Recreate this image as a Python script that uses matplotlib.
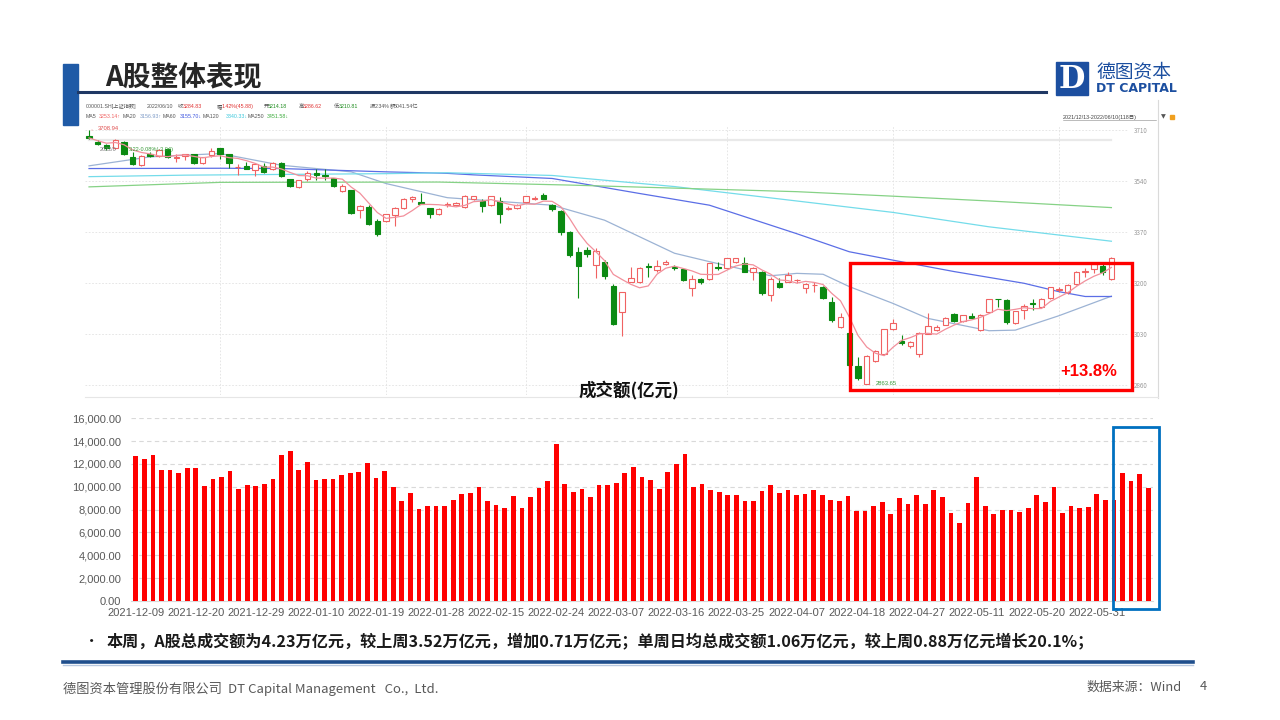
import numpy as np
import pandas as pd
import matplotlib
matplotlib.use("Agg")
import matplotlib.pyplot as plt
from matplotlib.patches import Rectangle
from matplotlib.ticker import FuncFormatter

plt.rcParams['font.family'] = ['Noto Sans CJK SC', 'DejaVu Sans']

# ---- Shanghai composite daily candles, 2021/12/13 - 2022/06/10 (118 days) ----
opens = [3690, 3672, 3660, 3649, 3671, 3621, 3593, 3632, 3624, 3647,
         3617, 3623, 3630, 3599, 3627, 3649, 3629, 3586, 3591, 3577,
         3590, 3580, 3602, 3546, 3521, 3546, 3568, 3561, 3549, 3507,
         3510, 3443, 3455, 3407, 3407, 3428, 3452, 3480, 3471, 3449,
         3429, 3462, 3462, 3455, 3480, 3474, 3460, 3474, 3447, 3449,
         3471, 3480, 3494, 3460, 3440, 3372, 3303, 3311, 3261, 3270,
         3191, 3106, 3205, 3205, 3256, 3244, 3263, 3253, 3247, 3183,
         3214, 3214, 3255, 3250, 3270, 3266, 3239, 3239, 3161, 3200,
         3205, 3211, 3184, 3194, 3188, 3137, 3055, 3033, 2926, 2864,
         2941, 2964, 3047, 3008, 2992, 2964, 3030, 3043, 3062, 3097,
         3076, 3092, 3045, 3105, 3148, 3145, 3067, 3111, 3133, 3122,
         3150, 3178, 3170, 3196, 3236, 3248, 3257, 3214.18]
highs = [3708.94, 3676, 3664, 3680, 3675, 3638, 3626, 3636, 3646, 3650,
         3629, 3632, 3632, 3621, 3649, 3651, 3632, 3596, 3605, 3601,
         3602, 3603, 3605, 3548, 3545, 3574, 3580, 3579, 3552, 3530,
         3512, 3462, 3460, 3414, 3432, 3455, 3484, 3491, 3501, 3452,
         3450, 3470, 3470, 3493, 3492, 3480, 3492, 3488, 3456, 3465,
         3491, 3490, 3499, 3463, 3444, 3374, 3322, 3320, 3316, 3278,
         3197, 3172, 3255, 3253, 3266, 3277, 3277, 3260, 3249, 3226,
         3218, 3268, 3270, 3283, 3285, 3288, 3255, 3241, 3222, 3219,
         3238, 3215, 3200, 3205, 3190, 3155, 3100, 3035, 2953, 2960,
         2978, 3048, 3081, 3028, 3007, 3039, 3100, 3062, 3087, 3100,
         3095, 3100, 3098, 3147, 3149, 3148, 3109, 3130, 3147, 3152,
         3188, 3189, 3196, 3240, 3250, 3265, 3263, 3286.62]
lows = [3680, 3660, 3645, 3646, 3628, 3594, 3590, 3621, 3622, 3616,
        3605, 3610, 3598, 3597, 3622, 3613, 3585, 3562, 3579, 3558,
        3566, 3576, 3555, 3520, 3518, 3540, 3544, 3544, 3520, 3503,
        3432, 3418, 3393, 3358, 3405, 3392, 3448, 3469, 3463, 3416,
        3426, 3455, 3458, 3450, 3477, 3438, 3456, 3400, 3443, 3446,
        3468, 3476, 3479, 3441, 3361, 3289, 3150, 3288, 3216, 3215,
        3061, 3023, 3205, 3200, 3222, 3238, 3260, 3244, 3208, 3159,
        3198, 3211, 3244, 3246, 3267, 3236, 3210, 3161, 3141, 3183,
        3205, 3200, 3167, 3172, 3148, 3072, 3050, 2925, 2878, 2863.65,
        2937, 2962, 3044, 2995, 2984, 2956, 3030, 3040, 3060, 3070,
        3070, 3082, 3041, 3103, 3120, 3066, 3066, 3080, 3112, 3118,
        3148, 3170, 3165, 3193, 3222, 3235, 3228, 3210.81]
closes = [3684, 3665, 3650, 3676, 3632, 3596, 3624, 3625, 3643, 3619,
          3619, 3630, 3601, 3619, 3641, 3632, 3599, 3588, 3582, 3596,
          3569, 3599, 3558, 3524, 3543, 3566, 3560, 3558, 3524, 3525,
          3435, 3458, 3396, 3363, 3429, 3452, 3481, 3486, 3465, 3429,
          3447, 3465, 3466, 3490, 3490, 3458, 3490, 3429, 3451, 3462,
          3489, 3485, 3481, 3447, 3372, 3293, 3256, 3296, 3309, 3223,
          3064, 3171, 3216, 3251, 3254, 3259, 3271, 3250, 3212, 3214,
          3203, 3266, 3252, 3283, 3283, 3237, 3252, 3167, 3213, 3186,
          3226, 3211, 3196, 3195, 3151, 3079, 3087, 2929, 2886, 2958,
          2975, 3047, 3068, 3002, 3004, 3035, 3058, 3054, 3084, 3073,
          3093, 3086, 3096, 3147, 3146, 3070, 3107, 3123, 3131, 3149,
          3186, 3182, 3195, 3236, 3241, 3263, 3239, 3284.83]

# moving averages (candle index, value)
ma20_idx = [0, 7, 15, 22, 30, 34, 41, 53, 59, 67, 71, 78, 81, 84, 87, 92, 96, 103, 106, 111, 117]
ma20_val = [3591, 3621, 3632, 3593, 3571, 3532, 3485, 3460, 3410, 3300, 3272, 3225, 3233, 3230,
            3189, 3133, 3083, 3042, 3044, 3092, 3157]
ma60_idx = [0, 15, 22, 34, 41, 44, 53, 63, 71, 81, 87, 92, 99, 107, 111, 114, 117]
ma60_val = [3582, 3583, 3582, 3571, 3566, 3561, 3549, 3499, 3460, 3365, 3305, 3277, 3239, 3200,
            3172, 3156, 3156]
ma120_idx = [0, 11, 34, 41, 53, 67, 81, 92, 103, 117]
ma120_val = [3555, 3560, 3565, 3568, 3559, 3522, 3474, 3436, 3388, 3340]
ma250_idx = [0, 15, 40, 55, 81, 92, 103, 117]
ma250_val = [3521, 3536, 3537, 3527, 3505, 3490, 3474, 3452]

month_idx = [15, 34, 50, 73, 92, 111]
price_ticks = [2860, 3030, 3200, 3370, 3540, 3710]

# ---- daily turnover (亿元) ----
turnover = [12670, 12410, 12760, 11450, 11450, 11180, 11620, 11620, 10040, 10660,
            10830, 11360, 9780, 10130, 10040, 10220, 10660, 12760, 13110, 11450,
            12150, 10570, 10660, 10660, 11010, 11180, 11270, 12060, 10750, 11360,
            9960, 8730, 9430, 8030, 8290, 8290, 8290, 8820, 9340, 9430,
            9960, 8730, 8380, 8120, 9170, 8120, 9080, 9870, 10480, 13720,
            10220, 9520, 9780, 9080, 10130, 10130, 10310, 11180, 11710, 10830,
            10570, 9780, 11270, 11970, 12850, 9960, 10220, 9690, 9520, 9260,
            9260, 8730, 8730, 9610, 10130, 9430, 9690, 9260, 9340, 9690,
            9260, 8820, 8730, 9170, 7850, 7850, 8290, 8640, 7590, 8990,
            8470, 9260, 8470, 9690, 9080, 7680, 6800, 8560, 10830, 8290,
            7590, 7940, 7940, 7770, 8120, 9260, 8640, 9960, 7680, 8290,
            8150, 8200, 9380, 8850, 8820, 11180, 10480, 11100, 9870]
bar_ticks = ['2021-12-09', '2021-12-20', '2021-12-29', '2022-01-10', '2022-01-19',
             '2022-01-28', '2022-02-15', '2022-02-24', '2022-03-07', '2022-03-16',
             '2022-03-25', '2022-04-07', '2022-04-18', '2022-04-27', '2022-05-11',
             '2022-05-20', '2022-05-31']

UP = '#F06262'
DOWN = '#0B8A12'
W, H = 1280, 720
TINY = ['Liberation Sans', 'Noto Sans CJK SC', 'DejaVu Sans']


def box(x0, y0, x1, y1):
    # pixel box with top-left origin -> figure fraction rect
    return [x0 / W, 1 - y1 / H, (x1 - x0) / W, (y1 - y0) / H]


fig = plt.figure(figsize=(12.8, 7.2), dpi=100)

# background layer in pixel coordinates
bg = fig.add_axes([0, 0, 1, 1], zorder=0)
bg.set_xlim(0, W)
bg.set_ylim(H, 0)
bg.axis('off')

bg.add_patch(Rectangle((63, 64), 15, 61, color='#1F5AA6'))
bg.plot([78, 1046], [92, 92], color='#1F3864', lw=2.2)
bg.text(105, 78, 'A股整体表现', fontsize=20, fontweight='bold', color='#262626', va='center')

# logo
bg.add_patch(Rectangle((1056, 62), 32, 33, color='#1C4FA0'))
bg.text(1072, 79, 'D', fontsize=22, fontweight='bold', color='white', ha='center', va='center',
        family='DejaVu Serif')
bg.text(1096, 72, '德图资本', fontsize=13.5, color='#1C4FA0', va='center')
bg.text(1096, 89, 'DT CAPITAL', fontsize=9, fontweight='bold', color='#1C4FA0', va='center',
        family='DejaVu Sans')

# screenshot frame lines
bg.plot([1158, 1158], [100, 398], color='#DADADA', lw=0.8)
bg.plot([85, 1158], [397, 397], color='#E6E6E6', lw=0.8)

# header strip of the quote screenshot
hdr1 = [(86, '000001.SH[上证指数]', '#555555'), (147, '2022/06/10', '#555555'),
        (178, '收', '#555555'), (183, '3284.83', '#E03030'),
        (217, '幅', '#555555'), (222, '1.42%(45.88)', '#E03030'),
        (264, '开', '#555555'), (268, '3214.18', '#1A8A1A'),
        (299, '高', '#555555'), (303, '3286.62', '#E03030'),
        (334, '低', '#555555'), (339, '3210.81', '#1A8A1A'),
        (370, '振', '#555555'), (375, '2.34%', '#555555'),
        (390, '额', '#555555'), (394, '5041.54亿', '#555555')]
for xx, s, cc in hdr1:
    bg.text(xx, 106.5, s, fontsize=3.8, color=cc, va='center', family=TINY)
hdr2 = [(86, 'MA5', '#555555'), (99, '3253.14↑', '#F06262'),
        (123, 'MA20', '#555555'), (140, '3156.93↑', '#7F9CC8'),
        (163, 'MA60', '#555555'), (180, '3155.70↓', '#3D55E0'),
        (203, 'MA120', '#555555'), (226, '3340.33↓', '#3CC8DC'),
        (248, 'MA250', '#555555'), (267, '3451.58↓', '#3BAA3B')]
for xx, s, cc in hdr2:
    bg.text(xx, 116.5, s, fontsize=3.8, color=cc, va='center', family=TINY)
bg.text(1063, 117, '2021/12/13-2022/06/10(118日)', fontsize=3.9, color='#444444', va='center',
        family=TINY)
bg.plot([1063, 1156], [120, 120], color='#888888', lw=0.4)
bg.text(1161, 117, '▼', fontsize=4.5, color='#555555', va='center', family='DejaVu Sans')
bg.add_patch(Rectangle((1170, 115), 4, 4, color='#F0A020'))

# ---- candlestick panel ----
ax = fig.add_axes(box(85, 125, 1128, 395), zorder=1)
ax.patch.set_alpha(0)
n = len(closes)
x = np.arange(n)
o = np.array(opens)
c = np.array(closes)
up = c >= o
cols = np.where(up, UP, DOWN)
ax.plot([0, n - 1], [3677, 3677], color='#E9E9E9', lw=1.6, zorder=1)
ax.vlines(x, lows, highs, colors=cols, lw=0.8, zorder=3)
ax.bar(x, np.maximum(np.abs(c - o), 1.2), bottom=np.minimum(o, c), width=0.62,
       facecolor=np.where(up, 'white', DOWN), edgecolor=cols, lw=0.8, zorder=4)

ma5 = pd.Series(closes).rolling(5, min_periods=1).mean()
ax.plot(ma20_idx, ma20_val, color='#9CB3D4', lw=0.9, zorder=2)
ax.plot(ma60_idx, ma60_val, color='#5B6EE6', lw=0.9, zorder=2)
ax.plot(ma120_idx, ma120_val, color='#74DCEA', lw=0.9, zorder=2)
ax.plot(ma250_idx, ma250_val, color='#86D286', lw=0.9, zorder=2)
ax.plot(x, ma5, color='#F2909C', lw=0.9, zorder=5)

ax.set_xlim(-0.46, 118.9)
ax.set_ylim(2828, 3727)
ax.set_yticks(price_ticks)
ax.set_xticks(month_idx)
ax.set_xticklabels([])
ax.yaxis.tick_right()
ax.tick_params(axis='y', length=0, labelsize=4.5, labelcolor='#9A9A9A', pad=4)
ax.tick_params(axis='x', length=0)
ax.grid(True, ls=(0, (2, 2)), color='#E2E2E2', lw=0.6)
for sp in ax.spines.values():
    sp.set_visible(False)
ax.axvline(118.9, color='#E2E2E2', lw=0.6, ls=(0, (2, 2)))

ax.annotate(f'{highs[0]:.2f}', xy=(0, highs[0]), xytext=(1.0, highs[0] + 8), fontsize=4.2,
            color='#E05050', va='center', family=TINY,
            arrowprops=dict(arrowstyle='-', color='#E05050', lw=0.5))
lo_i = int(np.argmin(lows))
ax.annotate(f'{lows[lo_i]:.2f}', xy=(lo_i, lows[lo_i]), xytext=(lo_i + 1.0, lows[lo_i] + 2),
            fontsize=4.2, color='#3A9A3A', va='center', family=TINY,
            arrowprops=dict(arrowstyle='-', color='#3A9A3A', lw=0.5))
# leftover crosshair tip from the quote window
ax.text(1.2, 3644, '2022/0', fontsize=4.0, color='#777777', va='center', family=TINY, zorder=6)
ax.text(4.6, 3644, '3.22-0.08%(-3.04)', fontsize=4.0, color='#3A9A3A', va='center', family=TINY,
        zorder=6)

# ---- turnover bars ----
ax2 = fig.add_axes(box(131, 418.3, 1153, 601), zorder=1)
xb = np.arange(len(turnover))
ax2.bar(xb, turnover, width=0.55, color='#FF0000', zorder=3)
ax2.set_xlim(-0.55, len(turnover) - 0.45)
ax2.set_ylim(0, 16000)
ax2.set_yticks(np.arange(0, 16001, 2000))
ax2.yaxis.set_major_formatter(FuncFormatter(lambda v, p: f'{v:,.2f}'))
ax2.set_xticks(np.arange(len(bar_ticks)) * 7)
ax2.set_xticklabels(bar_ticks)
ax2.grid(axis='y', ls=(0, (4, 3)), color='#D9D9D9', lw=0.8, zorder=0)
for sp in ['top', 'right', 'left']:
    ax2.spines[sp].set_visible(False)
ax2.spines['bottom'].set_color('#D9D9D9')
ax2.tick_params(length=0, labelcolor='#595959')
ax2.tick_params(axis='y', pad=7)
ax2.tick_params(axis='x', pad=5)
for lab in ax2.get_xticklabels() + ax2.get_yticklabels():
    lab.set_family('Liberation Sans')
    lab.set_fontsize(8)

# ---- overlay annotations ----
ov = fig.add_axes([0, 0, 1, 1], zorder=10)
ov.set_xlim(0, W)
ov.set_ylim(H, 0)
ov.axis('off')
ov.patch.set_alpha(0)
ov.add_patch(Rectangle((850, 263), 282, 127, fill=False, ec='#FF0000', lw=2.4))
ov.text(1089, 371, '+13.8%', fontsize=12, fontweight='bold', color='#FF0000',
        ha='center', va='center', family='Liberation Sans')
ov.text(629, 390, '成交额(亿元)', fontsize=12.6, fontweight='bold', color='#111111',
        ha='center', va='center')
ov.add_patch(Rectangle((1113, 426.5), 46, 182.5, fill=False, ec='#0070C0', lw=2.0))

ov.text(92, 641, '•', fontsize=11, color='#1A1A1A', va='center', ha='center')
ov.text(107, 641, '本周，A股总成交额为4.23万亿元，较上周3.52万亿元，增加0.71万亿元；单周日均总成交额1.06万亿元，'
        '较上周0.88万亿元增长20.1%；', fontsize=11.6, fontweight='bold', color='#1A1A1A', va='center')
ov.plot([63, 1193], [662, 662], color='#1F4E8C', lw=2.6)
ov.plot([63, 1193], [664.5, 664.5], color='#B8C8E0', lw=1.0)
ov.text(63, 689, '德图资本管理股份有限公司  DT Capital Management   Co.,  Ltd.', fontsize=9.5,
        color='#595959', va='center')
ov.text(1182, 687, '数据来源：Wind', fontsize=9.3, color='#595959', va='center', ha='right')
ov.text(1203, 687, '4', fontsize=9.3, color='#595959', va='center', ha='center')

fig.savefig('out.png', dpi=100)
